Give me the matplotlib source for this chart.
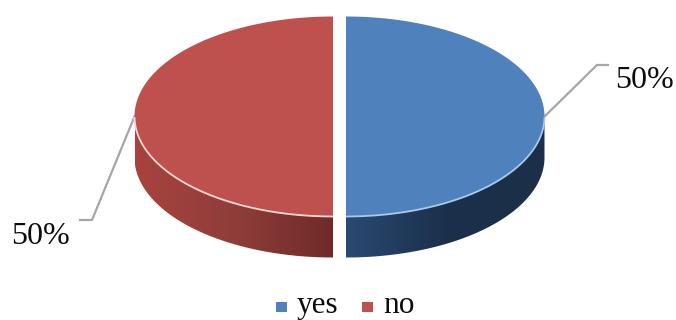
import numpy as np
import matplotlib
matplotlib.use("Agg")
import matplotlib.pyplot as plt
from matplotlib.patches import Polygon, Rectangle
from matplotlib.colors import LinearSegmentedColormap

categories = ["yes", "no"]
shares = [50, 50]
top_colors = ["#4f81bd", "#be504d"]
rim_colors = ["#a9c8ee", "#f6d9d3"]
side_ramps = [["#2a4a72", "#1b304c", "#1b2f48"], ["#a8433f", "#8f3d3a", "#6f2a28"]]

plt.rcParams["font.family"] = ["Liberation Serif", "DejaVu Serif"]

# Pie geometry on a pixel-sized canvas
CX, CY = 339.5, 116.5
RX, RY = 198.5, 100.0
DEPTH = 41.0
GAP = 6.5
LEADER = "#a6a6a6"
INK = "#0c0c0c"

fig = plt.figure(figsize=(6.76, 3.20), dpi=100)
ax = fig.add_axes([0, 0, 1, 1])
ax.set_xlim(0, 676)
ax.set_ylim(320, 0)
ax.axis("off")

fractions = np.array(shares, dtype=float) / sum(shares)
edges = np.concatenate([[0], np.cumsum(fractions)]) * 2 * np.pi


def rim(a0, a1, ox):
    # Angles run clockwise from twelve o'clock
    t = np.linspace(a0, a1, 300)
    return CX + ox + RX * np.sin(t), CY - RY * np.cos(t)


for i, (a0, a1) in enumerate(zip(edges[:-1], edges[1:])):
    mid = (a0 + a1) / 2
    ox = GAP * np.sign(np.sin(mid))
    x, y = rim(a0, a1, ox)

    # Side wall: lower half of the rim extruded downwards, with a horizontal ramp
    front = y >= CY
    fx, fy = x[front], y[front]
    wall = np.column_stack([np.r_[fx, fx[::-1]], np.r_[fy, fy[::-1] + DEPTH]])
    clip = Polygon(wall, closed=True, fc="none", ec="none")
    ax.add_patch(clip)
    ramp = LinearSegmentedColormap.from_list("wall", side_ramps[i])
    img = ax.imshow(np.linspace(0, 1, 256)[None, :], cmap=ramp, aspect="auto",
                    extent=[fx.min(), fx.max(), CY + RY + DEPTH + 1, CY], zorder=2)
    img.set_clip_path(clip)

    # Top face
    top = np.column_stack([np.r_[CX + ox, x], np.r_[CY, y]])
    ax.add_patch(Polygon(top, closed=True, fc=top_colors[i], ec="none", zorder=3))
    ax.plot(fx, fy, color=rim_colors[i], lw=1.3, zorder=4, solid_capstyle="butt")

    # Leader line and percentage label
    side = np.sign(np.sin(mid))
    ax_x, ax_y = CX + ox + RX * np.sin(mid), CY - RY * np.cos(mid)
    if side > 0:
        lx, ly = [ax_x, 597, 608], [ax_y, 65, 65]
        ax.text(615, 80, f"{shares[i]}%", fontsize=23, ha="left", va="center", color=INK)
    else:
        lx, ly = [ax_x, 92, 80], [ax_y, 220, 220]
        ax.text(11.5, 236, f"{shares[i]}%", fontsize=23, ha="left", va="center", color=INK)
    ax.plot(lx, ly, color=LEADER, lw=1.6, zorder=1, solid_joinstyle="miter")

# Legend row along the bottom
for name, color, sx, tx in zip(categories, top_colors, [276, 362], [297, 383]):
    ax.add_patch(Rectangle((sx, 302), 11, 10, fc=color, ec="none"))
    ax.text(tx, 313, name, fontsize=22.5, ha="left", va="baseline", color=INK)

ax.set_xlim(0, 676)
ax.set_ylim(320, 0)
fig.savefig("out.png", dpi=100)
